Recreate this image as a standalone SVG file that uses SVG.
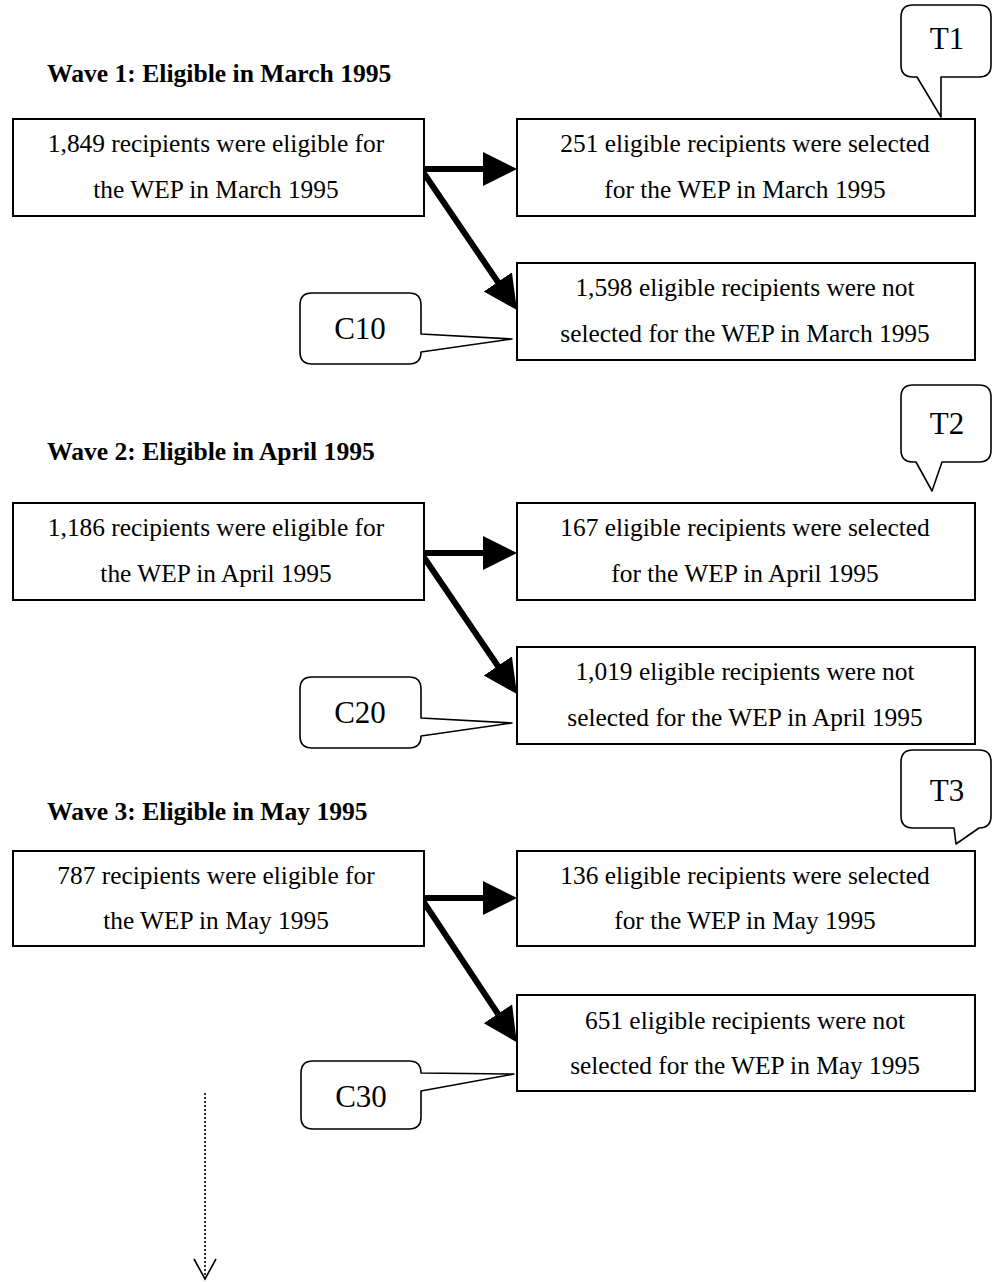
<svg xmlns="http://www.w3.org/2000/svg" width="992" height="1282" viewBox="0 0 992 1282">
<style>
.box{fill:#fff;stroke:#000;stroke-width:2}
.call{fill:#fff;stroke:#000;stroke-width:1.6;stroke-linejoin:round}
.t{font-family:"Liberation Serif","Times New Roman",serif;font-size:25.4px;fill:#000;text-anchor:middle}
.h{font-family:"Liberation Serif","Times New Roman",serif;font-size:25.6px;font-weight:bold;fill:#000}
.c{font-family:"Liberation Serif","Times New Roman",serif;font-size:31px;fill:#000;text-anchor:middle}
.arr{stroke:#000;stroke-width:6;fill:none}
</style>
<defs>
<marker id="ah" markerUnits="userSpaceOnUse" markerWidth="36" markerHeight="36" refX="14" refY="17" orient="auto">
<path d="M0,0 L34,17 L0,34 Z" fill="#000"/>
</marker>
<marker id="vh" markerUnits="userSpaceOnUse" markerWidth="30" markerHeight="30" refX="22" refY="12" orient="auto">
<path d="M2,1 L22,12 L2,23" fill="none" stroke="#000" stroke-width="1.6"/>
</marker>
</defs>

<text class="h" x="47" y="82">Wave 1: Eligible in March 1995</text>
<text class="h" x="47" y="460">Wave 2: Eligible in April 1995</text>
<text class="h" x="47" y="820">Wave 3: Eligible in May 1995</text>

<g id="connectors">
<line class="arr" x1="421" y1="169" x2="497" y2="169" marker-end="url(#ah)"/>
<line class="arr" x1="421" y1="169" x2="505.7" y2="293.5" marker-end="url(#ah)"/>
<line class="arr" x1="421" y1="553" x2="497" y2="553" marker-end="url(#ah)"/>
<line class="arr" x1="421" y1="553" x2="505.7" y2="677.5" marker-end="url(#ah)"/>
<line class="arr" x1="421" y1="898" x2="497" y2="898" marker-end="url(#ah)"/>
<line class="arr" x1="421" y1="898" x2="505.7" y2="1025.5" marker-end="url(#ah)"/>
<line x1="205" y1="1093" x2="205" y2="1279" stroke="#000" stroke-width="1.6" stroke-dasharray="2,2" marker-end="url(#vh)"/>
</g>

<g id="w1_eligible">
<rect class="box" x="13" y="119" width="411" height="97"/>
<text class="t" x="216" y="152">1,849 recipients were eligible for</text>
<text class="t" x="216" y="198">the WEP in March 1995</text>
</g>
<g id="w1_selected">
<rect class="box" x="517" y="119" width="458" height="97"/>
<text class="t" x="745" y="152">251 eligible recipients were selected</text>
<text class="t" x="745" y="198">for the WEP in March 1995</text>
</g>
<g id="w1_not_selected">
<rect class="box" x="517" y="263" width="458" height="97"/>
<text class="t" x="745" y="296">1,598 eligible recipients were not</text>
<text class="t" x="745" y="342">selected for the WEP in March 1995</text>
</g>
<g id="T1">
<path class="call" d="M913,5 H979 Q991,5 991,17 V65 Q991,77 979,77 H941 V117 L917,77 H913 Q901,77 901,65 V17 Q901,5 913,5 Z"/>
<text class="c" x="947" y="49">T1</text>
</g>
<g id="C10">
<path class="call" d="M312,293 H409 Q421,293 421,305 V334 L512,339 L421,352 Q421,364 409,364 H312 Q300,364 300,352 V305 Q300,293 312,293 Z"/>
<text class="c" x="360" y="339">C10</text>
</g>

<g id="w2_eligible">
<rect class="box" x="13" y="503" width="411" height="97"/>
<text class="t" x="216" y="536">1,186 recipients were eligible for</text>
<text class="t" x="216" y="582">the WEP in April 1995</text>
</g>
<g id="w2_selected">
<rect class="box" x="517" y="503" width="458" height="97"/>
<text class="t" x="745" y="536">167 eligible recipients were selected</text>
<text class="t" x="745" y="582">for the WEP in April 1995</text>
</g>
<g id="w2_not_selected">
<rect class="box" x="517" y="647" width="458" height="97"/>
<text class="t" x="745" y="680">1,019 eligible recipients were not</text>
<text class="t" x="745" y="726">selected for the WEP in April 1995</text>
</g>
<g id="T2">
<path class="call" d="M913,385 H979 Q991,385 991,397 V450 Q991,462 979,462 H942 L932,491 L916,462 H913 Q901,462 901,450 V397 Q901,385 913,385 Z"/>
<text class="c" x="947" y="434">T2</text>
</g>
<g id="C20">
<path class="call" d="M312,677 H409 Q421,677 421,689 V718 L512,723 L421,736 Q421,748 409,748 H312 Q300,748 300,736 V689 Q300,677 312,677 Z"/>
<text class="c" x="360" y="723">C20</text>
</g>

<g id="w3_eligible">
<rect class="box" x="13" y="851" width="411" height="95"/>
<text class="t" x="216" y="884">787 recipients were eligible for</text>
<text class="t" x="216" y="929">the WEP in May 1995</text>
</g>
<g id="w3_selected">
<rect class="box" x="517" y="851" width="458" height="95"/>
<text class="t" x="745" y="884">136 eligible recipients were selected</text>
<text class="t" x="745" y="929">for the WEP in May 1995</text>
</g>
<g id="w3_not_selected">
<rect class="box" x="517" y="995" width="458" height="96"/>
<text class="t" x="745" y="1029">651 eligible recipients were not</text>
<text class="t" x="745" y="1074">selected for the WEP in May 1995</text>
</g>
<g id="T3">
<path class="call" d="M913,750 H979 Q991,750 991,762 V816 Q991,828 979,828 L956,844 L954,828 H913 Q901,828 901,816 V762 Q901,750 913,750 Z"/>
<text class="c" x="947" y="801">T3</text>
</g>
<g id="C30">
<path class="call" d="M313,1061 H409 Q421,1061 421,1073 L514,1074 L421,1091 V1117 Q421,1129 409,1129 H313 Q301,1129 301,1117 V1073 Q301,1061 313,1061 Z"/>
<text class="c" x="361" y="1107">C30</text>
</g>
</svg>
